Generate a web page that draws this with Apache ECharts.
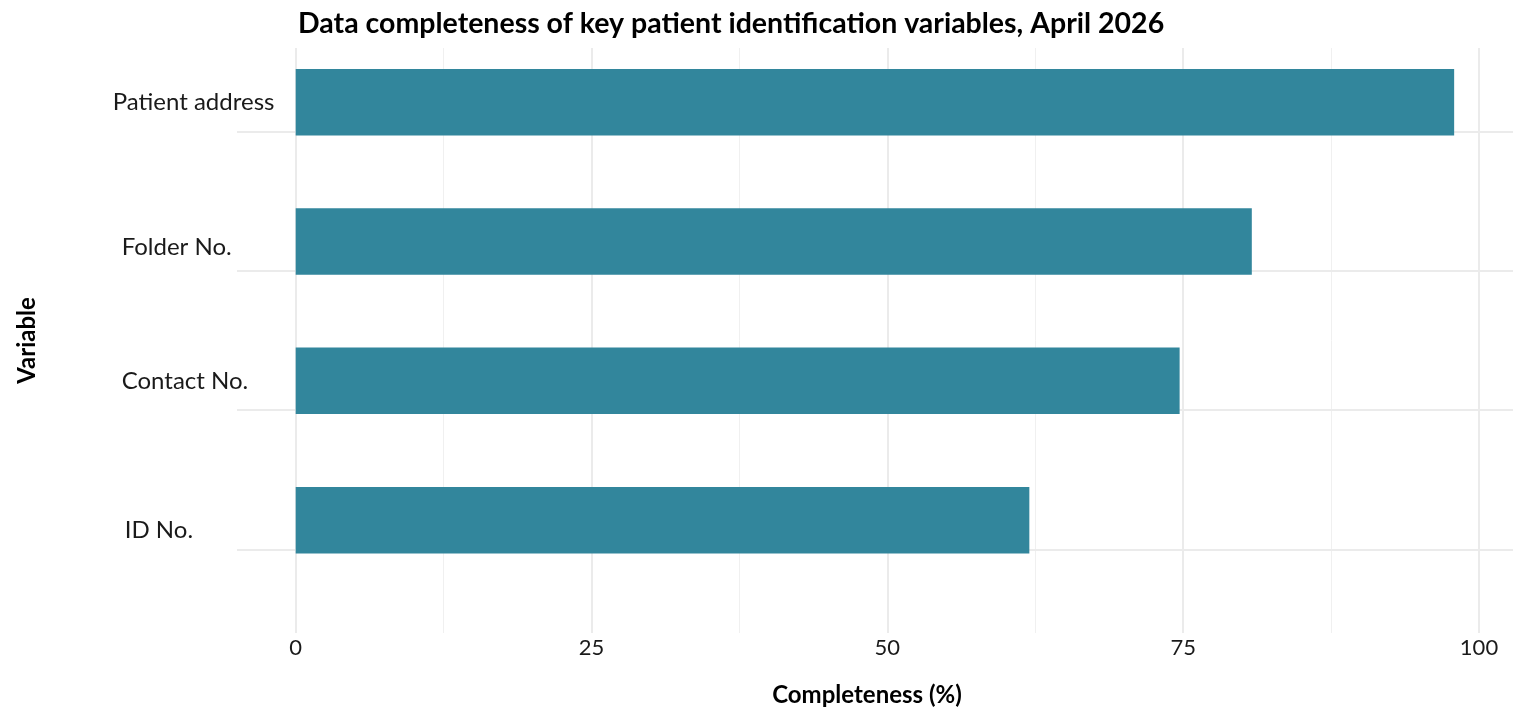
<!DOCTYPE html>
<html>
<head>
<meta charset="utf-8">
<script src="https://cdn.jsdelivr.net/npm/echarts@6/dist/echarts.min.js"></script>
<style>
html,body{margin:0;padding:0;background:#fff;}
#chart{width:1513px;height:709px;}
</style>
</head>
<body>
<div id="chart"></div>
<script>
// 数据部分
var variables = ["Patient address", "Folder No.", "Contact No.", "ID No."];
var completeness = [97.9, 80.8, 74.7, 62.0];
var xTicks = [0, 25, 50, 75, 100];
var rowLines = [1, 2, 3, 4];

var fontName = "Lato";
var barColor = "#32869c";
var gridColor = "#ebebeb";

var myChart = echarts.init(document.getElementById("chart"));
var option = {
	backgroundColor: "#fff",
	animation: false,
	title: {
		text: "Data completeness of key patient identification variables, April 2026",
		left: 293,
		top: 4,
		textStyle: {fontFamily: fontName, fontWeight: "bold", fontSize: 28.5, color: "#000"}
	},
	grid: [
		//柱子
		{left: 295.7, right: 34, top: 32.6, bottom: 119.2, outerBoundsMode: "none"},
		//竖网格线+刻度
		{left: 295.7, right: 34, top: 48, bottom: 76, outerBoundsMode: "none"},
		//横网格线+坐标轴名称
		{left: 237, right: 0, top: 48, bottom: 76, outerBoundsMode: "none"}
	],
	xAxis: [
		{gridIndex: 0, type: "value", min: 0, max: 100, show: false},
		{
			gridIndex: 1, type: "value", min: xTicks[0], max: xTicks[xTicks.length - 1], interval: 25,
			axisLine: {show: false}, axisTick: {show: false},
			axisLabel: {
				margin: 4, fontFamily: fontName, fontSize: 22, color: "#1a1a1a",
				formatter: function(v){ return xTicks.indexOf(v) >= 0 ? String(v) : ""; }
			},
			splitLine: {show: true, lineStyle: {color: gridColor, width: 2}},
			minorTick: {show: false, splitNumber: 2},
			minorSplitLine: {show: true, lineStyle: {color: "#f0f0f0", width: 1}}
		},
		{
			gridIndex: 2, type: "value", min: 0, max: 1,
			axisLine: {show: false}, axisTick: {show: false}, axisLabel: {show: false}, splitLine: {show: false},
			name: "Completeness (%)", nameLocation: "middle", nameGap: 50,
			nameTextStyle: {fontFamily: fontName, fontWeight: "bold", fontSize: 24, color: "#000", padding: [0, 16, 0, 0]}
		}
	],
	yAxis: [
		{
			gridIndex: 0, type: "category", data: variables, inverse: true,
			axisLine: {show: false}, axisTick: {show: false}, splitLine: {show: false},
			axisLabel: {
				align: "left", margin: 183, fontFamily: fontName, fontSize: 24, color: "#1a1a1a",
				formatter: function(v, i){ return "{r" + i + "|" + v + "}"; },
				rich: {
					r0: {padding: [0, 0, 0, 0]},
					r1: {padding: [12, 0, 0, 9]},
					r2: {padding: [0, 0, 0, 9]},
					r3: {padding: [20, 0, 0, 12]}
				}
			}
		},
		{gridIndex: 1, type: "value", min: 0, max: 1, show: false},
		{
			gridIndex: 2, type: "value", min: 0.4, max: 4.6,
			axisLine: {show: false}, axisTick: {show: false}, axisLabel: {show: false}, splitLine: {show: false},
			name: "Variable", nameLocation: "middle", nameRotate: 90, nameGap: 178,
			nameTextStyle: {fontFamily: fontName, fontWeight: "bold", fontSize: 24, color: "#000", padding: [0, 0, 20, 0]}
		}
	],
	series: [
		{
			type: "scatter", xAxisIndex: 2, yAxisIndex: 2, data: [], z: 1, silent: true,
			markLine: {
				silent: true, symbol: "none", z: 0, label: {show: false},
				lineStyle: {color: gridColor, width: 2, type: "solid"},
				data: rowLines.map(function(v){ return {yAxis: v}; })
			}
		},
		{
			type: "bar", xAxisIndex: 0, yAxisIndex: 0, z: 3,
			data: completeness, barWidth: 66.5,
			itemStyle: {color: barColor}
		}
	]
};
myChart.setOption(option);
</script>
</body>
</html>
